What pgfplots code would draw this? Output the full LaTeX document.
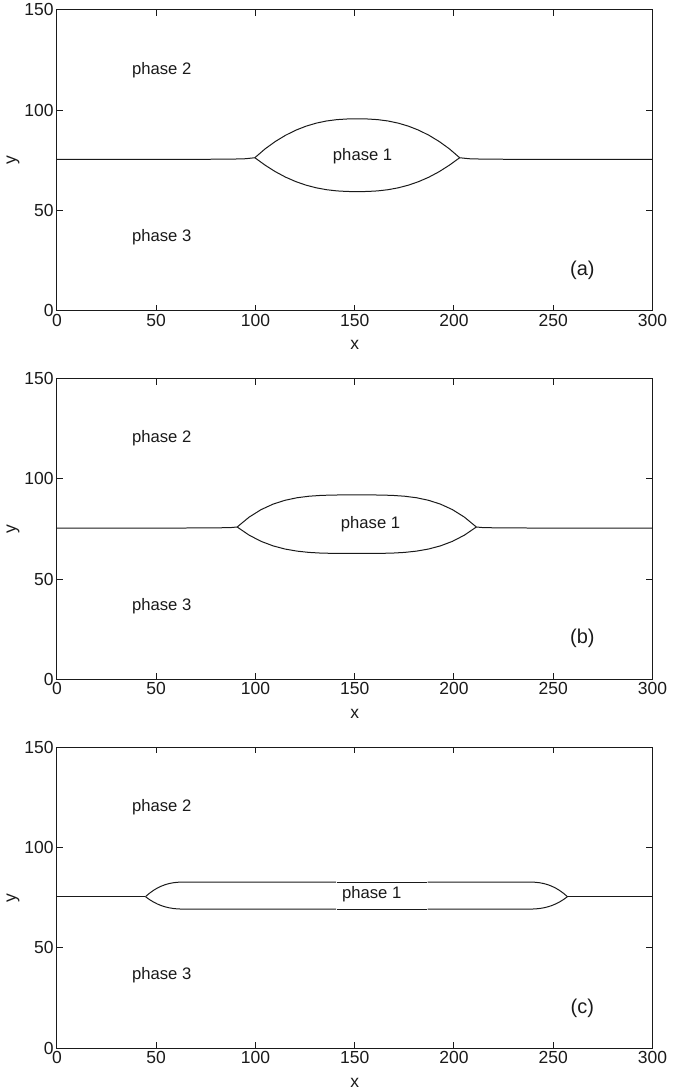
\documentclass[border=0pt]{standalone}
\usepackage{pgfplots}
\pgfplotsset{compat=1.18}
\usepackage{fontspec}
\setmainfont{Liberation Sans}
\definecolor{ln}{HTML}{1A1A1A}
\pgfplotsset{
  panel/.style={
    scale only axis, width=357.6pt, height=180.6pt,
    xmin=0, xmax=300, ymin=0, ymax=150,
    xtick={0,50,...,300}, ytick={0,50,100,150},
    tick align=inside, tick pos=both,
    major tick length=3.6pt,
    axis line style={ln, line width=0.6pt},
    every tick/.style={ln, line width=0.6pt},
    /pgf/number format/assume math mode=true,
    tick label style={font=\fontsize{10.5}{12}\selectfont, text=ln},
    xticklabel style={yshift=1.5pt},
    yticklabel style={xshift=1.5pt},
    label style={font=\fontsize{10.5}{12}\selectfont, text=ln},
    xlabel={x}, ylabel={y},
    xlabel style={yshift=-1.6pt},
    ylabel style={yshift=-4pt},
    clip=true,
  },
  crv/.style={ln, line width=0.6pt, no marks},
}
\begin{document}
\begin{tikzpicture}
\useasboundingbox (-34.2pt,-25.2pt) rectangle (376.8pt,629.4pt);
% ---------------- (a)
\begin{axis}[panel, at={(0,442.8pt)}]
\addplot[crv] coordinates {(0,75.5)(70,75.5)(88,75.6)(95,75.8)(99.7,76.3)
(104.86,80.71)(110.02,84.40)(115.18,87.50)(120.34,90.04)(125.5,92.04)(130.66,93.56)(135.82,94.63)(140.98,95.30)(146.14,95.62)(151.3,95.7)(156.46,95.62)(161.62,95.30)(166.78,94.63)(171.94,93.56)(177.1,92.04)(182.26,90.04)(187.42,87.50)(192.58,84.40)(197.74,80.71)(202.9,76.3)
(207.6,75.8)(214.6,75.6)(232,75.5)(300,75.5)};
\addplot[crv] coordinates {(99.7,76.3)(104.86,72.60)(110.02,69.35)(115.18,66.62)(120.34,64.39)(125.5,62.62)(130.66,61.29)(135.82,60.35)(140.98,59.76)(146.14,59.47)(151.3,59.4)(156.46,59.47)(161.62,59.76)(166.78,60.35)(171.94,61.29)(177.1,62.62)(182.26,64.39)(187.42,66.62)(192.58,69.35)(197.74,72.60)(202.9,76.3)};
\node[font=\fontsize{10}{12}\selectfont, text=ln] at (axis cs:52.8,120) {phase 2};
\node[font=\fontsize{10}{12}\selectfont, text=ln] at (axis cs:52.8,36.7) {phase 3};
\node[font=\fontsize{10}{12}\selectfont, text=ln] at (axis cs:154,77.2) {phase 1};
\node[font=\fontsize{12}{14}\selectfont, text=ln] at (axis cs:264.7,20.2) {(a)};
\end{axis}
% ---------------- (b)
\begin{axis}[panel, at={(0,221.4pt)}]
\addplot[crv] coordinates {(0,75.5)(65,75.5)(82,75.6)(88,75.75)(90.8,76.0)
(96.83,80.93)(102.85,84.67)(108.88,87.41)(114.9,89.32)(120.93,90.59)(126.95,91.35)(132.98,91.76)(139.0,91.94)(145.03,92.0)(151.05,92.0)(157.08,92.0)(163.1,91.94)(169.13,91.76)(175.15,91.35)(181.18,90.59)(187.2,89.32)(193.23,87.41)(199.25,84.67)(205.28,80.93)(211.3,76.0)
(214.1,75.75)(220,75.6)(237,75.5)(300,75.5)};
\addplot[crv] coordinates {(90.8,76.0)(96.83,71.93)(102.85,68.84)(108.88,66.59)(114.9,65.01)(120.93,63.97)(126.95,63.33)(132.98,62.99)(139.0,62.85)(145.03,62.80)(151.05,62.8)(157.08,62.80)(163.1,62.85)(169.13,62.99)(175.15,63.33)(181.18,63.97)(187.2,65.01)(193.23,66.59)(199.25,68.84)(205.28,71.93)(211.3,76.0)};
\node[font=\fontsize{10}{12}\selectfont, text=ln] at (axis cs:52.8,120.3) {phase 2};
\node[font=\fontsize{10}{12}\selectfont, text=ln] at (axis cs:52.8,36.7) {phase 3};
\node[font=\fontsize{10}{12}\selectfont, text=ln] at (axis cs:158,77.2) {phase 1};
\node[font=\fontsize{12}{14}\selectfont, text=ln] at (axis cs:264.7,20.5) {(b)};
\end{axis}
% ---------------- (c)
\begin{axis}[panel, at={(0,0pt)}]
\addplot[crv] coordinates {(0,75.5)(44.6,75.5)};
\addplot[crv] coordinates {(257.2,75.5)(300,75.5)};
\addplot[crv] coordinates {(44.6,75.5)(46.6,77.19)(48.6,78.62)(50.6,79.81)(52.6,80.76)(54.6,81.51)(56.6,82.06)(58.6,82.44)(60.6,82.67)(62.6,82.78)(64.6,82.8)(140.6,82.8)};
\addplot[crv] coordinates {(141.0,82.8)(186.4,82.8)};
\addplot[crv] coordinates {(186.8,82.8)(237.2,82.8)(239.2,82.78)(241.2,82.67)(243.2,82.44)(245.2,82.06)(247.2,81.51)(249.2,80.76)(251.2,79.81)(253.2,78.62)(255.2,77.19)(257.2,75.5)};
\addplot[crv] coordinates {(44.6,75.5)(46.6,74.06)(48.6,72.85)(50.6,71.84)(52.6,71.03)(54.6,70.40)(56.6,69.93)(58.6,69.61)(60.6,69.41)(62.6,69.32)(64.6,69.3)(140.6,69.3)};
\addplot[crv] coordinates {(141.0,69.3)(186.4,69.3)};
\addplot[crv] coordinates {(186.8,69.3)(237.2,69.3)(239.2,69.32)(241.2,69.41)(243.2,69.61)(245.2,69.93)(247.2,70.40)(249.2,71.03)(251.2,71.84)(253.2,72.85)(255.2,74.06)(257.2,75.5)};
\node[font=\fontsize{10}{12}\selectfont, text=ln] at (axis cs:52.8,120) {phase 2};
\node[font=\fontsize{10}{12}\selectfont, text=ln] at (axis cs:52.8,36.4) {phase 3};
\node[font=\fontsize{10}{12}\selectfont, text=ln] at (axis cs:158.6,76.5) {phase 1};
\node[font=\fontsize{12}{14}\selectfont, text=ln] at (axis cs:264.7,20.0) {(c)};
\end{axis}
\end{tikzpicture}
\end{document}
